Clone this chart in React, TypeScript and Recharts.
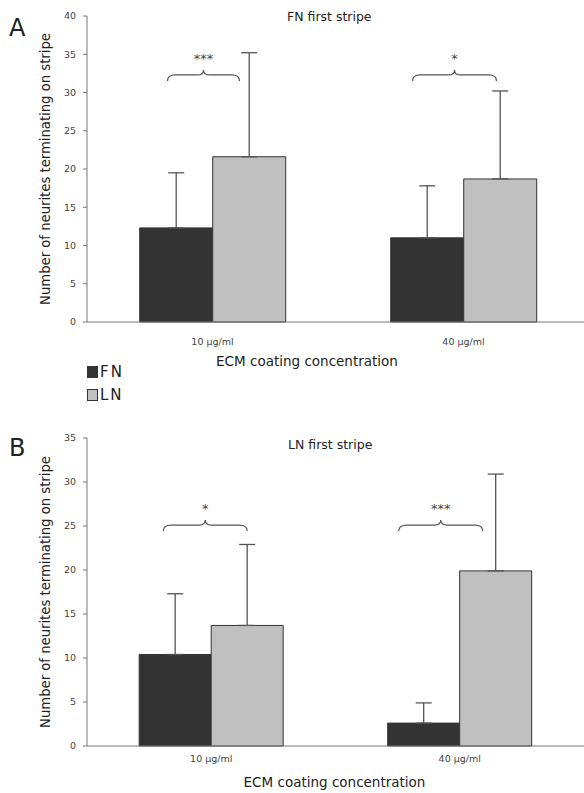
import React from "react";
import { Bar, BarChart, ErrorBar, Label, Legend, ReferenceDot, XAxis, YAxis } from "recharts";

const categories = ["10 μg/ml", "40 μg/ml"];

// panel A: FN first stripe
const fnMeanA = [12.3, 11.0];
const fnErrA = [7.2, 6.8];
const lnMeanA = [21.6, 18.7];
const lnErrA = [13.6, 11.5];
const braceA = [32.3, 32.3];
const starsA = ["***", "*"];

// panel B: LN first stripe
const fnMeanB = [10.4, 2.6];
const fnErrB = [6.9, 2.3];
const lnMeanB = [13.7, 19.9];
const lnErrB = [9.2, 11.0];
const braceB = [25.1, 25.1];
const starsB = ["*", "***"];

const ticksA = [0, 5, 10, 15, 20, 25, 30, 35, 40];
const ticksB = [0, 5, 10, 15, 20, 25, 30, 35];

const FONT = "'DejaVu Sans', sans-serif";
const DARK = "#333333";
const LIGHT = "#c0c0c0";
const AXIS = "#777777";

function buildRows(fn: number[], fnErr: number[], ln: number[], lnErr: number[]) {
    return categories.map((name, i) => ({
        name,
        fn: fn[i],
        fnErr: [0, fnErr[i]],
        ln: ln[i],
        lnErr: [0, lnErr[i]],
    }));
}

function braceShape(width: number, dx: number, stars: string) {
    return (props: any) => {
        const cx = props.cx + dx;
        const cy = props.cy;
        const x0 = cx - width / 2;
        const x1 = cx + width / 2;
        const d = `M${x0},${cy + 6} Q${x0},${cy} ${x0 + 8},${cy} L${cx - 6},${cy} Q${cx},${cy} ${cx},${cy - 5} Q${cx},${cy} ${cx + 6},${cy} L${x1 - 8},${cy} Q${x1},${cy} ${x1},${cy + 6}`;
        return (
            <g>
                <path d={d} fill="none" stroke="#555" strokeWidth={1.2} />
                <text x={cx} y={cy - 12} textAnchor="middle" fontSize={13} fill="#444" fontFamily={FONT}>
                    {stars}
                </text>
            </g>
        );
    };
}

function renderLegend() {
    const item = (label: string, color: string) => (
        <div style={{ display: "flex", alignItems: "center", height: 23 }}>
            <span style={{ width: 9, height: 10, background: color, border: `1px solid ${DARK}`, display: "inline-block" }} />
            <span style={{ fontSize: 15, color: "#222", marginLeft: 2, letterSpacing: 2 }}>{label}</span>
        </div>
    );
    return (
        <div style={{ fontFamily: FONT }}>
            {item("FN", DARK)}
            {item("LN", LIGHT)}
        </div>
    );
}

type PanelProps = {
    rows: ReturnType<typeof buildRows>;
    width: number;
    height: number;
    top: number;
    maxY: number;
    ticks: number[];
    braces: number[];
    stars: string[];
    braceWidth: number[];
    braceDx: number[];
    tickMargin: number;
    labelOffset: number;
    labelDx: number;
    xAxisHeight: number;
    withLegend?: boolean;
};

function Panel(p: PanelProps) {
    return (
        <BarChart
            width={p.width}
            height={p.height}
            data={p.rows}
            margin={{ top: p.top, right: 0, left: 27, bottom: 0 }}
            barCategoryGap="21%"
            barGap={0}
        >
            <XAxis
                dataKey="name"
                stroke={AXIS}
                tickLine={false}
                height={p.xAxisHeight}
                tickMargin={p.tickMargin}
                tick={{ fontSize: 9.5, fill: "#444", fontFamily: FONT }}
            >
                <Label
                    content={(lp: any) => {
                        const vb = lp.viewBox;
                        return (
                            <text
                                x={vb.x + vb.width / 2 + p.labelDx}
                                y={vb.y + p.labelOffset}
                                textAnchor="middle"
                                dominantBaseline="middle"
                                fontSize={13.5}
                                fill="#222"
                                fontFamily={FONT}
                            >
                                ECM coating concentration
                            </text>
                        );
                    }}
                />
            </XAxis>
            <YAxis
                domain={[0, p.maxY]}
                ticks={p.ticks}
                stroke={AXIS}
                tickSize={4}
                tickMargin={7}
                width={60}
                tick={{ fontSize: 9.5, fill: "#444", fontFamily: FONT }}
                label={{
                    value: "Number of neurites terminating on stripe",
                    angle: -90,
                    position: "insideLeft",
                    offset: 18,
                    style: { textAnchor: "middle", fontSize: 13.2, fill: "#222", fontFamily: FONT },
                }}
            />
            <Bar dataKey="fn" name="FN" fill={DARK} stroke={DARK} strokeWidth={1} isAnimationActive={false}>
                <ErrorBar dataKey="fnErr" width={8} stroke="#555" strokeWidth={1.3} direction="y" />
            </Bar>
            <Bar dataKey="ln" name="LN" fill={LIGHT} stroke={DARK} strokeWidth={1} isAnimationActive={false}>
                <ErrorBar dataKey="lnErr" width={8} stroke="#555" strokeWidth={1.3} direction="y" />
            </Bar>
            {categories.map((c, i) => (
                <ReferenceDot
                    key={c}
                    x={c}
                    y={p.braces[i]}
                    r={0}
                    shape={braceShape(p.braceWidth[i], p.braceDx[i], p.stars[i])}
                />
            ))}
            {p.withLegend && (
                <Legend
                    layout="vertical"
                    align="center"
                    verticalAlign="middle"
                    wrapperStyle={{ left: 87, top: 360, width: 60 }}
                    content={renderLegend}
                />
            )}
        </BarChart>
    );
}

export default function App() {
    const rowsA = buildRows(fnMeanA, fnErrA, lnMeanA, lnErrA);
    const rowsB = buildRows(fnMeanB, fnErrB, lnMeanB, lnErrB);
    const title: React.CSSProperties = { position: "absolute", fontSize: 12.5, color: "#222", fontFamily: FONT, whiteSpace: "nowrap" };
    const letter: React.CSSProperties = { position: "absolute", fontSize: 24, color: "#222", fontFamily: FONT, lineHeight: 1 };
    return (
        <div style={{ position: "absolute", left: 0, top: 0, width: 584, height: 793, overflow: "hidden", background: "#fff" }}>
            <div style={{ position: "absolute", left: 0, top: 0 }}>
                <Panel
                    rows={rowsA}
                    width={589}
                    height={400}
                    top={16}
                    maxY={40}
                    ticks={ticksA}
                    braces={braceA}
                    stars={starsA}
                    braceWidth={[72, 84]}
                    braceDx={[-9, -9]}
                    tickMargin={10}
                    labelOffset={40}
                    labelDx={-31}
                    xAxisHeight={78}
                    withLegend
                />
            </div>
            <div style={{ position: "absolute", left: 0, top: 420 }}>
                <Panel
                    rows={rowsB}
                    width={584}
                    height={373}
                    top={18}
                    maxY={35}
                    ticks={ticksB}
                    braces={braceB}
                    stars={starsB}
                    braceWidth={[84, 84]}
                    braceDx={[-6, -19]}
                    tickMargin={3}
                    labelOffset={37}
                    labelDx={-1}
                    xAxisHeight={47}
                />
            </div>
            <div style={{ ...title, left: 287, top: 9 }}>FN first stripe</div>
            <div style={{ ...title, left: 288, top: 437 }}>LN first stripe</div>
            <div style={{ ...letter, left: 9, top: 16 }}>A</div>
            <div style={{ ...letter, left: 9, top: 436 }}>B</div>
        </div>
    );
}
